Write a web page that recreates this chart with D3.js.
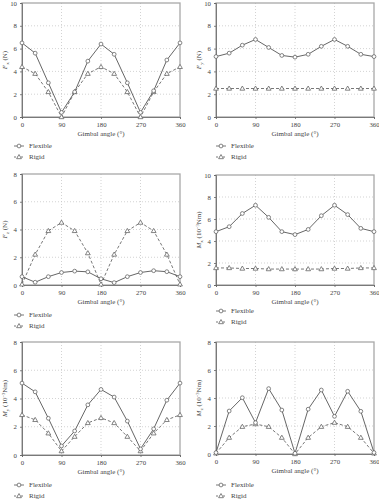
<!DOCTYPE html>
<html><head><meta charset="utf-8">
<script src="https://cdn.jsdelivr.net/npm/d3@7"></script>
<style>body{margin:0;background:#fff}svg{display:block}</style>
</head><body>
<svg id="c" width="379" height="500"></svg>
<script>
const angles = [0,30,60,90,120,150,180,210,240,270,300,330,360];
const xTicks = [0,90,180,270,360];
const fxFlexible = [6.5,5.6,3.0,0.4,2.2,4.9,6.4,5.5,3.0,0.4,2.3,5.0,6.5];
const fxRigid    = [4.4,3.8,2.2,0.0,2.2,3.8,4.4,3.8,2.2,0.0,2.2,3.8,4.4];
const fyFlexible = [5.3,5.6,6.3,6.8,6.1,5.4,5.25,5.5,6.2,6.8,6.2,5.5,5.3];
const fyRigid    = [2.5,2.5,2.5,2.5,2.5,2.5,2.5,2.5,2.5,2.5,2.5,2.5,2.5];
const fzFlexible = [0.6,0.2,0.6,0.9,1.0,0.95,0.45,0.17,0.6,0.9,1.03,0.96,0.6];
const fzRigid    = [0.05,2.2,3.9,4.5,3.9,2.3,0.05,2.2,3.9,4.5,3.9,2.2,0.05];
const mxFlexible = [4.85,5.3,6.5,7.25,6.15,4.85,4.58,5.05,6.3,7.25,6.4,5.15,4.85];
const mxRigid    = [1.55,1.55,1.5,1.5,1.45,1.45,1.45,1.45,1.45,1.5,1.5,1.55,1.55];
const myFlexible = [5.09,4.47,2.6,0.64,1.7,3.55,4.64,4.1,2.4,0.43,1.85,3.88,5.09];
const myRigid    = [2.84,2.49,1.54,0.28,1.3,2.27,2.63,2.27,1.3,0.28,1.54,2.49,2.84];
const mzFlexible = [0.1,3.07,4.02,2.24,4.67,3.14,0.05,3.2,4.57,2.69,4.48,3.05,0.1];
const mzRigid    = [0.05,1.17,1.95,2.14,1.95,1.17,0.0,1.17,1.95,2.24,1.95,1.17,0.05];
const yTicks10 = [0,2,4,6,8,10];
const yTicks8 = [0,2,4,6,8];
const seriesNames = ["Flexible","Rigid"];

const panels = [
  {sym:"F",sub:"x",unit:" (N)",exp:null,flex:fxFlexible,rigid:fxRigid,ymax:10,yt:yTicks10,
   l:22,r:180,t:3,b:117,legY:146,legX:14},
  {sym:"F",sub:"y",unit:" (N)",exp:null,flex:fyFlexible,rigid:fyRigid,ymax:10,yt:yTicks10,
   l:216,r:374,t:3,b:117,legY:146,legX:216},
  {sym:"F",sub:"z",unit:" (N)",exp:null,flex:fzFlexible,rigid:fzRigid,ymax:8,yt:yTicks8,
   l:22,r:180,t:174,b:285,legY:315,legX:14},
  {sym:"M",sub:"x",unit:"Nm)",exp:"−3",flex:mxFlexible,rigid:mxRigid,ymax:10,yt:yTicks10,
   l:216,r:374,t:175,b:285,legY:311,legX:216},
  {sym:"M",sub:"y",unit:"Nm)",exp:"−3",flex:myFlexible,rigid:myRigid,ymax:8,yt:yTicks8,
   l:22,r:180,t:342,b:455,legY:485,legX:14},
  {sym:"M",sub:"z",unit:"Nm)",exp:"−3",flex:mzFlexible,rigid:mzRigid,ymax:8,yt:yTicks8,
   l:216,r:374,t:342,b:454,legY:485,legX:216}
];

const svg = d3.select("#c");
const FONT = "Liberation Serif, Times New Roman, serif";
const LINE = "#555";
const MARK = "#666";
const tri = d3.symbol().type(d3.symbolTriangle).size(10);

function drawMarker(g, kind, x, y){
  if(kind===0){
    g.append("circle").attr("cx",x).attr("cy",y).attr("r",1.9)
      .attr("fill","#fff").attr("stroke",MARK).attr("stroke-width",0.8);
  } else {
    g.append("path").attr("d",tri).attr("transform",`translate(${x},${y+0.3})`)
      .attr("fill","#fff").attr("stroke",MARK).attr("stroke-width",0.8);
  }
}

panels.forEach(p=>{
  const g = svg.append("g");
  const x = d3.scaleLinear().domain([0,360]).range([p.l,p.r]);
  const y = d3.scaleLinear().domain([0,p.ymax]).range([p.b,p.t]);

  g.append("g").selectAll("line").data(xTicks.slice(1,-1)).join("line")
    .attr("x1",d=>x(d)).attr("x2",d=>x(d)).attr("y1",p.t).attr("y2",p.b)
    .attr("stroke","#c8c8c8").attr("stroke-width",0.8).attr("stroke-dasharray","1,2");
  g.append("g").selectAll("line").data(p.yt.slice(1,-1)).join("line")
    .attr("x1",p.l).attr("x2",p.r).attr("y1",d=>y(d)).attr("y2",d=>y(d))
    .attr("stroke","#c8c8c8").attr("stroke-width",0.8).attr("stroke-dasharray","1,2");

  g.append("rect").attr("x",p.l).attr("y",p.t).attr("width",p.r-p.l).attr("height",p.b-p.t)
    .attr("fill","none").attr("stroke","#a8a8a8").attr("stroke-width",1.3);

  const xa = g.append("g").attr("transform",`translate(0,${p.b})`)
    .call(d3.axisBottom(x).tickValues(xTicks).tickSize(2).tickPadding(3));
  const ya = g.append("g").attr("transform",`translate(${p.l},0)`)
    .call(d3.axisLeft(y).tickValues(p.yt).tickSize(2).tickPadding(3));
  [xa,ya].forEach(a=>{
    a.select(".domain").attr("stroke","#666").attr("stroke-width",0.8);
    a.selectAll(".tick line").attr("stroke","#666").attr("stroke-width",0.8);
    a.selectAll("text").attr("font-family",FONT).attr("font-size",6.8).attr("fill","#444");
  });

  g.append("text").attr("x",(p.l+p.r)/2).attr("y",p.b+19).attr("text-anchor","middle")
    .attr("font-family",FONT).attr("font-size",7).attr("fill","#444").text("Gimbal angle (°)");

  const ytx = p.l-15, yty=(p.t+p.b)/2;
  const yt = g.append("text").attr("transform",`translate(${ytx},${yty}) rotate(-90)`)
    .attr("text-anchor","middle").attr("font-family",FONT).attr("font-size",7).attr("fill","#444");
  yt.append("tspan").attr("font-style","italic").text(p.sym);
  yt.append("tspan").attr("font-size",5).attr("dy",1.5).text(p.sub);
  if(p.exp){
    yt.append("tspan").attr("dy",-1.5).text(" (10");
    yt.append("tspan").attr("font-size",4.5).attr("dy",-2.5).text(p.exp);
    yt.append("tspan").attr("dy",2.5).text(p.unit);
  } else {
    yt.append("tspan").attr("dy",-1.5).text(p.unit);
  }

  const line = d3.line().x((d,i)=>x(angles[i])).y(d=>y(d));
  g.append("path").datum(p.rigid).attr("d",line).attr("fill","none")
    .attr("stroke",LINE).attr("stroke-width",0.8).attr("stroke-dasharray","3,2");
  g.append("path").datum(p.flex).attr("d",line).attr("fill","none")
    .attr("stroke",LINE).attr("stroke-width",0.9);
  p.rigid.forEach((v,i)=>drawMarker(g,1,x(angles[i]),y(v)));
  p.flex.forEach((v,i)=>drawMarker(g,0,x(angles[i]),y(v)));

  seriesNames.forEach((name,k)=>{
    const ly = p.legY + k*11;
    g.append("line").attr("x1",p.legX).attr("x2",p.legX+10).attr("y1",ly).attr("y2",ly)
      .attr("stroke",LINE).attr("stroke-width",0.8).attr("stroke-dasharray",k?"2,1.5":null);
    drawMarker(g,k,p.legX+5,ly);
    g.append("text").attr("x",p.legX+15).attr("y",ly+2.3).attr("font-family",FONT)
      .attr("font-size",7).attr("fill","#444").text(name);
  });
});
</script>
</body></html>
